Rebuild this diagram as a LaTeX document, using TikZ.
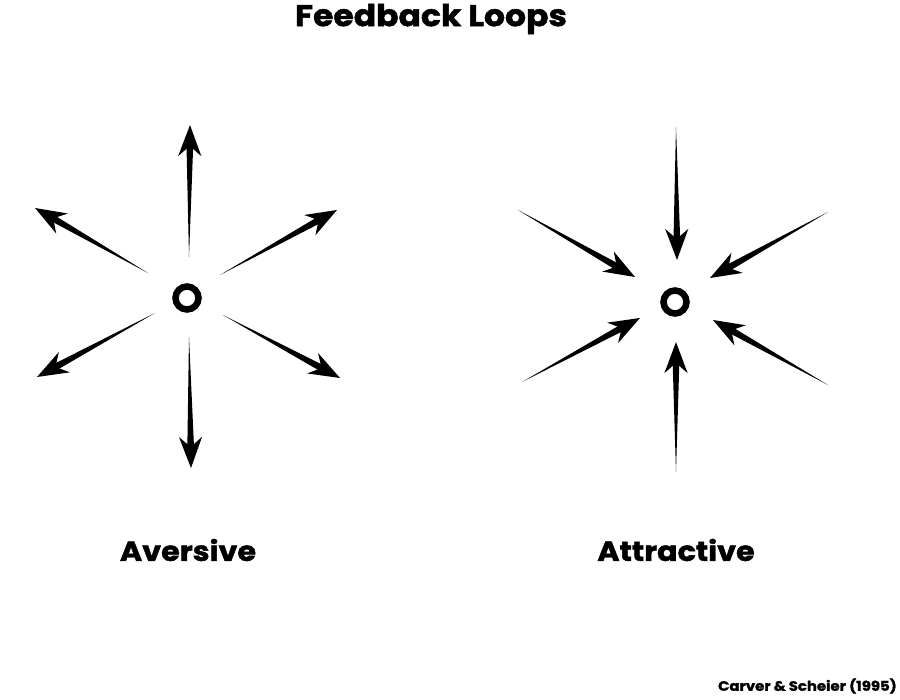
\documentclass[tikz,border=0pt]{standalone}
\usepackage{fontspec}
\setmainfont{Poppins}[BoldFeatures={FakeBold=1.6,FakeStretch=1.1}]
\usetikzlibrary{arrows.meta,calc}

\tikzset{
  ring/.style={circle, draw, line width=6.5pt, minimum size=23pt, inner sep=0pt},
  headtip/.style={-{Stealth[length=31pt,width=23pt,inset=10pt]}, line width=2pt},
  bigtext/.style={font=\fontsize{27.5}{30}\selectfont\bfseries, inner sep=0pt},
}
% tapered arrow: thin at the tail, thick at the head
\newcommand\taparrow[2]{%
  \coordinate (base) at ($(#2)!19pt!(#1)$);
  \fill (#1) -- ($(base)!3.4pt!90:(#2)$) -- ($(base)!3.4pt!-90:(#2)$) -- cycle;
  \draw[headtip] ($(#2)!32pt!(#1)$) -- (#2);
}

\begin{document}
\begin{tikzpicture}[x=1pt,y=-1pt]
\useasboundingbox (0,0) rectangle (900,700);

% Text Node
\node[bigtext, font=\fontsize{30}{32}\selectfont\bfseries] (title) at (431,19) {Feedback Loops};

%Shape: Circle
\node[ring] (cA) at (187,298) {};
%Shape: Circle
\node[ring] (cB) at (675,302) {};

% aversive: arrows pointing away
\coordinate (aUt) at (189,257); \coordinate (aUh) at (190,125);
\coordinate (aDt) at (189,337); \coordinate (aDh) at (191,468);
\coordinate (aULt) at (148,273); \coordinate (aULh) at (35,208);
\coordinate (aURt) at (220,275); \coordinate (aURh) at (337,210);
\coordinate (aLLt) at (155,313); \coordinate (aLLh) at (37,377);
\coordinate (aLRt) at (223,315); \coordinate (aLRh) at (340,378);
\foreach \n in {U,D,UL,UR,LL,LR}
  \taparrow{a\n t}{a\n h};

% attractive: arrows pointing in
\coordinate (bUt) at (676,127); \coordinate (bUh) at (677,260);
\coordinate (bDt) at (676,472); \coordinate (bDh) at (676,342);
\coordinate (bULt) at (518,210); \coordinate (bULh) at (635,277);
\coordinate (bURt) at (828,212); \coordinate (bURh) at (710,278);
\coordinate (bLLt) at (522,382); \coordinate (bLLh) at (640,318);
\coordinate (bLRt) at (828,385); \coordinate (bLRh) at (713,320);
\foreach \n in {U,D,UL,UR,LL,LR}
  \taparrow{b\n t}{b\n h};

% Text Node
\node[bigtext] (avers) at (188,550) {Aversive};
% Text Node
\node[bigtext] (attr) at (676,550) {Attractive};
% Text Node
\node[font=\fontsize{13.5}{15}\selectfont\bfseries, anchor=east, inner sep=0pt] (src) at (897,686) {Carver \& Scheier (1995)};

\end{tikzpicture}
\end{document}
